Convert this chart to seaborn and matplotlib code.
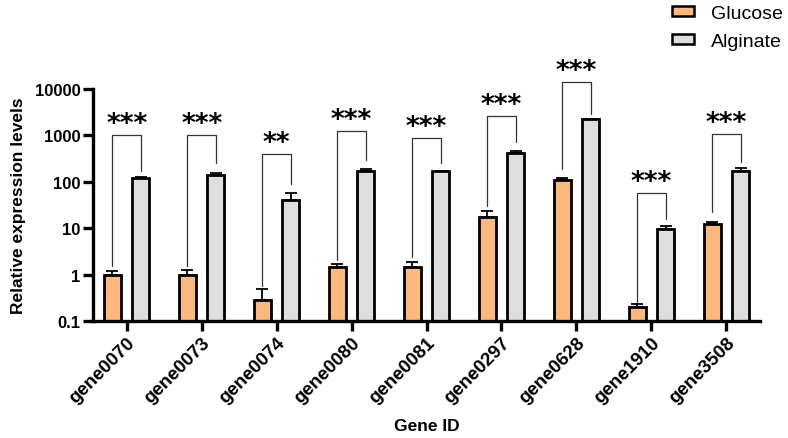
import numpy as np
import pandas as pd
import matplotlib
matplotlib.use('Agg')
import matplotlib.pyplot as plt
import seaborn as sns
from matplotlib.patches import Patch
from matplotlib.ticker import NullLocator

# values (log scale)
genes = ['gene0070', 'gene0073', 'gene0074', 'gene0080', 'gene0081',
         'gene0297', 'gene0628', 'gene1910', 'gene3508']
glucose = [1.0, 1.0, 0.29, 1.45, 1.45, 17.5, 110, 0.2, 12.3]
glucose_err = [0.2, 0.25, 0.2, 0.22, 0.4, 6.0, 10, 0.03, 1.5]
alginate = [123, 142, 40, 168, 168, 411, 2230, 9.5, 168]
alginate_err = [7, 13, 16, 20, 5, 44, 70, 1.8, 29]

# significance brackets
bracket_top = [1000, 1000, 400, 1240, 880, 2600, 14400, 57, 1070]
bracket_left = [1.55, 1.55, 0.57, 2.1, 2.4, 30, 190, 0.26, 22]
bracket_right = [172, 254, 90, 295, 250, 720, 2900, 16, 270]
stars = ['***', '***', '**', '***', '***', '***', '***', '***', '***']

yticks = [0.1, 1, 10, 100, 1000, 10000]
ytick_labels = ['0.1', '1', '10', '100', '1000', '10000']

colors = ['#fdb97d', '#dedede']

df = pd.DataFrame({
    'gene': genes * 2,
    'cond': ['Glucose'] * len(genes) + ['Alginate'] * len(genes),
    'value': glucose + alginate,
})

sns.set_theme(style='ticks')
plt.rcParams['font.family'] = ['Liberation Sans', 'DejaVu Sans']
for k in ['text.color', 'axes.labelcolor', 'xtick.color', 'ytick.color', 'axes.edgecolor']:
    plt.rcParams[k] = 'black'

fig = plt.figure(figsize=(7.88, 4.39), dpi=100)
ax = fig.add_axes([0.118, 0.2665, 0.8465, 0.5285])

sns.barplot(data=df, x='gene', y='value', hue='cond', palette=colors, saturation=1,
            width=0.76, gap=0.4, edgecolor='black', linewidth=2.0,
            errorbar=None, legend=False, ax=ax, zorder=2)
ax.set_yscale('log')

# upper error bars only
for cont, vals, errs in zip(ax.containers, [glucose, alginate], [glucose_err, alginate_err]):
    xs = [b.get_x() + b.get_width() / 2 for b in cont]
    ax.errorbar(xs, vals, yerr=[np.zeros(len(vals)), errs], fmt='none',
                ecolor='black', elinewidth=1.3, capsize=4, capthick=1.3, zorder=1)

# brackets + stars
g_bars = list(ax.containers[0])
a_bars = list(ax.containers[1])
for i in range(len(genes)):
    xl = g_bars[i].get_x() + g_bars[i].get_width() / 2
    xr = a_bars[i].get_x() + a_bars[i].get_width() / 2
    ax.plot([xl, xl, xr, xr], [bracket_left[i], bracket_top[i], bracket_top[i], bracket_right[i]],
            color='#333333', lw=0.9, clip_on=False)
    ax.annotate(stars[i], xy=((xl + xr) / 2, bracket_top[i]), xytext=(0, -1.5),
                textcoords='offset points', ha='center', va='bottom',
                fontsize=19, fontweight='bold', family='DejaVu Sans',
                annotation_clip=False)

ax.set_ylim(0.1, 10000)
ax.set_xlim(-0.45, len(genes) - 0.55)
ax.set_yticks(yticks)
ax.set_yticklabels(ytick_labels)
ax.yaxis.set_minor_locator(NullLocator())

sns.despine(ax=ax)
for s in ['left', 'bottom']:
    ax.spines[s].set_linewidth(2.4)
ax.tick_params(axis='both', width=2.4, length=7, pad=2)
ax.tick_params(axis='y', labelsize=12)
ax.tick_params(axis='x', labelsize=13.5)
for lab in ax.get_yticklabels():
    lab.set_fontweight('bold')
for lab in ax.get_xticklabels():
    lab.set_fontweight('bold')
    lab.set_rotation(45)
    lab.set_ha('right')
    lab.set_rotation_mode('anchor')

ax.set_xlabel('Gene ID', fontsize=12.5, fontweight='bold', labelpad=9)
ax.set_ylabel('Relative expression levels', fontsize=12.5, fontweight='bold', labelpad=6)

handles = [Patch(facecolor=colors[0], edgecolor='black', lw=1.8, label='Glucose'),
           Patch(facecolor=colors[1], edgecolor='black', lw=1.8, label='Alginate')]
fig.legend(handles=handles, loc='upper left', bbox_to_anchor=(0.831, 1.027),
           frameon=False, fontsize=14, handlelength=1.13, handleheight=0.41,
           handletextpad=0.88, labelspacing=0.6)

fig.savefig('out.png', dpi=100)
